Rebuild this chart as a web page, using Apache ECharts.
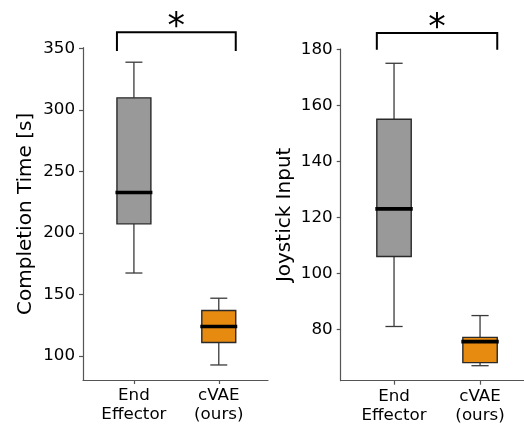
<!DOCTYPE html>
<html>
<head>
<meta charset="utf-8">
<script src="https://cdn.jsdelivr.net/npm/echarts@6/dist/echarts.min.js"></script>
<style>
html,body{margin:0;padding:0;background:#fff;}
#chart{width:524px;height:428px;}
</style>
</head>
<body>
<div id="chart"></div>
<script>
// ---- data ----
const categories = ['End\nEffector', 'cVAE\n(ours)'];
const positions = [1, 2];
// [low whisker, Q1, median, Q3, high whisker]
const completionTime = [
  [167.5, 207.5, 233, 310, 339],
  [92.7, 111, 124, 137, 147]
];
const joystickInput = [
  [81, 106, 123, 155, 175],
  [67, 68.1, 75.6, 77.1, 84.9]
];
const completionTicks = [100, 150, 200, 250, 300, 350];
const joystickTicks = [80, 100, 120, 140, 160, 180];
const yTitles = ['Completion Time [s]', 'Joystick Input'];
// significance bracket: [from group, to group, bottom value, top value]
const completionSig = [[1, 2, 348.1, 363.3]];
const joystickSig = [[1, 2, 179.8, 185.8]];
const sigLabel = '*';
const boxColors = ['#999999', '#E68A10'];

const FONT = 'DejaVu Sans';
const BOX_W = 0.4, CAP_W = 0.2;

function boxData(vals) {
  return vals.map((v, i) => [positions[i]].concat(v));
}

function renderBox(params, api) {
  const x = api.value(0);
  const lo = api.coord([x, api.value(1)]);
  const q1 = api.coord([x, api.value(2)]);
  const md = api.coord([x, api.value(3)]);
  const q3 = api.coord([x, api.value(4)]);
  const hi = api.coord([x, api.value(5)]);
  const half = api.size([BOX_W, 0])[0] / 2;
  const cap = api.size([CAP_W, 0])[0] / 2;
  const cx = lo[0];
  const wStyle = { stroke: '#3a3a3a', lineWidth: 1.3, fill: null };
  return {
    type: 'group',
    children: [
      { type: 'line', shape: { x1: cx, y1: q1[1], x2: cx, y2: lo[1] }, style: wStyle },
      { type: 'line', shape: { x1: cx, y1: q3[1], x2: cx, y2: hi[1] }, style: wStyle },
      { type: 'line', shape: { x1: cx - cap, y1: lo[1], x2: cx + cap, y2: lo[1] }, style: wStyle },
      { type: 'line', shape: { x1: cx - cap, y1: hi[1], x2: cx + cap, y2: hi[1] }, style: wStyle },
      { type: 'rect', shape: { x: cx - half, y: q3[1], width: 2 * half, height: q1[1] - q3[1] },
        style: { fill: boxColors[params.dataIndex], stroke: '#2a2a2a', lineWidth: 1.4 } },
      { type: 'line', shape: { x1: cx - half - 1.5, y1: md[1], x2: cx + half + 1.5, y2: md[1] },
        style: { stroke: '#000', lineWidth: 3.6 } }
    ]
  };
}

function renderSig(params, api) {
  const half = api.size([BOX_W, 0])[0] / 2;
  const a = api.coord([api.value(0), api.value(2)]);
  const b = api.coord([api.value(1), api.value(2)]);
  const at = api.coord([api.value(0), api.value(3)]);
  const x1 = a[0] - half, x2 = b[0] + half;
  const yb = a[1], yt = at[1];
  return {
    type: 'group',
    children: [
      { type: 'polyline', shape: { points: [[x1, yb], [x1, yt], [x2, yt], [x2, yb]] },
        style: { stroke: '#000', lineWidth: 2, fill: null } },
      { type: 'text', style: { text: sigLabel, x: (x1 + x2) / 2, y: yt - 4, align: 'center',
        verticalAlign: 'middle', fontSize: 35, fontFamily: FONT, fill: '#000' } }
    ]
  };
}

const axisCommon = {
  axisLine: { show: true, lineStyle: { color: '#555', width: 1.2 } },
  axisTick: { show: true, length: 4, lineStyle: { color: '#555', width: 1.2 } },
  splitLine: { show: false },
  axisLabel: { color: '#000', fontSize: 16.7, fontFamily: FONT }
};

function xAxis(gi, min, max) {
  return {
    type: 'value', gridIndex: gi, min: min, max: max,
    axisLine: axisCommon.axisLine, splitLine: axisCommon.splitLine,
    axisTick: Object.assign({}, axisCommon.axisTick, { customValues: positions }),
    axisLabel: Object.assign({}, axisCommon.axisLabel, {
      customValues: positions, margin: 6, lineHeight: 19,
      formatter: v => categories[Math.round(v) - 1]
    })
  };
}

function yAxis(gi, min, max, ticks, name, gap) {
  return {
    type: 'value', gridIndex: gi, min: min, max: max,
    name: name, nameLocation: 'middle', nameGap: gap, nameRotate: 90,
    nameTextStyle: { fontSize: 20, fontFamily: FONT, color: '#000' },
    axisLine: axisCommon.axisLine, splitLine: axisCommon.splitLine,
    axisTick: Object.assign({}, axisCommon.axisTick, { customValues: ticks }),
    axisLabel: Object.assign({}, axisCommon.axisLabel, { customValues: ticks, margin: 8 })
  };
}

const chart = echarts.init(document.getElementById('chart'), null, { renderer: 'canvas' });
chart.setOption({
  backgroundColor: '#fff',
  animation: false,
  grid: [
    { left: 83, top: 47.7, width: 185, height: 332.3 },
    { left: 340.7, top: 49, width: 183.3, height: 331.7 }
  ],
  xAxis: [xAxis(0, 0.4, 2.58), xAxis(1, 0.38, 2.511)],
  yAxis: [
    yAxis(0, 80.47, 350.8, completionTicks, yTitles[0], 47),
    yAxis(1, 61.64, 180.1, joystickTicks, yTitles[1], 45.7)
  ],
  series: [
    { type: 'custom', xAxisIndex: 0, yAxisIndex: 0, data: boxData(completionTime),
      renderItem: renderBox, encode: { x: 0, y: [1, 2, 3, 4, 5] }, clip: false },
    { type: 'custom', xAxisIndex: 1, yAxisIndex: 1, data: boxData(joystickInput),
      renderItem: renderBox, encode: { x: 0, y: [1, 2, 3, 4, 5] }, clip: false },
    { type: 'custom', xAxisIndex: 0, yAxisIndex: 0, data: completionSig,
      renderItem: renderSig, encode: { x: [0, 1], y: [2, 3] }, clip: false, silent: true },
    { type: 'custom', xAxisIndex: 1, yAxisIndex: 1, data: joystickSig,
      renderItem: renderSig, encode: { x: [0, 1], y: [2, 3] }, clip: false, silent: true }
  ]
});
</script>
</body>
</html>
